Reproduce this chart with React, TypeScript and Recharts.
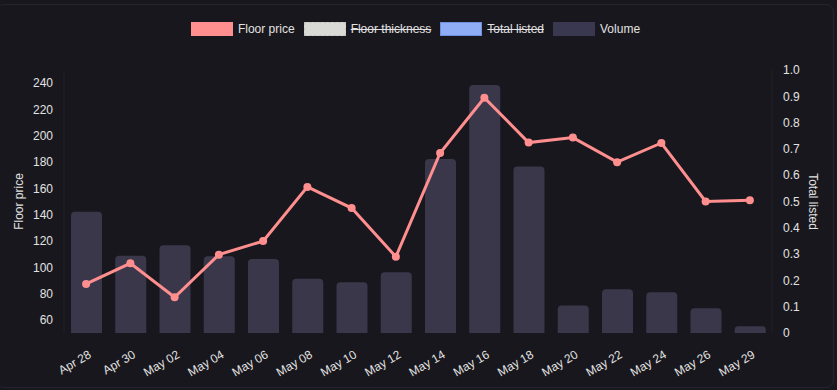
import { ComposedChart, Bar, Line, XAxis, YAxis } from "recharts";

const dates = [
  "Apr 28", "Apr 30", "May 02", "May 04", "May 06", "May 08", "May 10", "May 12",
  "May 14", "May 16", "May 18", "May 20", "May 22", "May 24", "May 26", "May 29",
];
const floorPrice = [87.3, 103, 77.2, 109.6, 119.9, 161.1, 145, 108, 186.9, 228.9, 194.8, 198.6, 179.9, 194.5, 150, 151];
const volume = [92.2, 58.8, 66.7, 58.3, 56.3, 41.3, 38.6, 46.2, 132.4, 188.5, 126.6, 20.9, 33.3, 31, 18.9, 5.2];
const leftTicks = [60, 80, 100, 120, 140, 160, 180, 200, 220, 240];
const rightTicks = [0, 0.1, 0.2, 0.3, 0.4, 0.5, 0.6, 0.7, 0.8, 0.9, 1];

const legendItems = [
  { label: "Floor price", fill: "#ff8f8f", border: "#ff8f8f", hidden: false, dashed: false },
  { label: "Floor thickness", fill: "#d9d9d6", border: "#c4c4c0", hidden: true, dashed: true },
  { label: "Total listed", fill: "#8fadf7", border: "#6f8fe0", hidden: true, dashed: false },
  { label: "Volume", fill: "#3a3750", border: "#3a3750", hidden: false, dashed: false },
];

const data = dates.map((date, i) => ({ date, floor: floorPrice[i], volume: volume[i] }));

const TEXT = "#e2e2e2";
const FONT = "'Liberation Sans', Arial, Helvetica, sans-serif";

function DateTick({ x, y, payload }: any) {
  return (
    <text
      x={x + 6}
      y={y + 16}
      transform={`rotate(-30, ${x + 6}, ${y + 16})`}
      textAnchor="end"
      fill={TEXT}
      fontSize={12}
      fontFamily={FONT}
    >
      {payload.value}
    </text>
  );
}

function ChartLegend() {
  return (
    <div
      style={{
        position: "absolute",
        top: 21,
        left: 0,
        width: 837,
        boxSizing: "border-box",
        paddingRight: 6,
        display: "flex",
        justifyContent: "center",
        gap: 9,
        fontFamily: FONT,
        fontSize: 12,
        color: TEXT,
      }}
    >
      {legendItems.map((it) => (
        <div key={it.label} style={{ display: "flex", alignItems: "center", gap: 5, height: 15 }}>
          <span
            style={{
              width: 40,
              height: 12,
              background: it.fill,
              border: `1.5px ${it.dashed ? "dashed" : "solid"} ${it.border}`,
              display: "inline-block",
            }}
          />
          <span style={{ textDecoration: it.hidden ? "line-through" : "none" }}>{it.label}</span>
        </div>
      ))}
    </div>
  );
}

export default function App() {
  return (
    <div
      style={{
        position: "absolute",
        left: 0,
        top: 0,
        width: 837,
        height: 390,
        background: "#18171d",
        overflow: "hidden",
      }}
    >
      <div
        style={{
          position: "absolute",
          left: -4,
          top: 4,
          width: 836,
          height: 382,
          border: "1px solid #26252f",
          borderRadius: 8,
        }}
      />
      <ChartLegend />
      <ComposedChart
        width={837}
        height={390}
        data={data}
        margin={{ top: 70, right: 0, bottom: 7, left: 0 }}
        style={{ position: "absolute", left: 0, top: 0 }}
      >
        <XAxis
          dataKey="date"
          height={50}
          tickLine={false}
          axisLine={false}
          interval={0}
          tick={<DateTick />}
        />
        <YAxis
          yAxisId="left"
          width={64}
          domain={[50, 250]}
          allowDataOverflow
          ticks={leftTicks}
          tickLine={false}
          axisLine={{ stroke: "#222129" }}
          tickSize={0}
          tickMargin={11}
          tick={{ fill: TEXT, fontSize: 12, fontFamily: FONT }}
          label={{ value: "Floor price", angle: -90, position: "center", dx: -13, fill: TEXT, fontSize: 12, fontFamily: FONT }}
        />
        <YAxis
          yAxisId="right"
          orientation="right"
          type="number"
          width={65}
          domain={[0, 1]}
          allowDataOverflow
          ticks={rightTicks}
          interval={0}
          tickFormatter={(v: number) => (v === 0 ? "0" : v.toFixed(1))}
          tickLine={false}
          axisLine={{ stroke: "#222129" }}
          tickSize={0}
          tickMargin={11}
          tick={{ fill: TEXT, fontSize: 12, fontFamily: FONT }}
          label={{ value: "Total listed", angle: 90, position: "center", dx: 9, fill: TEXT, fontSize: 12, fontFamily: FONT }}
        />
        <YAxis yAxisId="vol" hide domain={[0, 200]} allowDataOverflow />
        <Bar
          yAxisId="vol"
          dataKey="volume"
          fill="#3a374b"
          barSize={31}
          radius={[4, 4, 0, 0]}
          isAnimationActive={false}
        />
        <Line
          yAxisId="left"
          dataKey="floor"
          type="linear"
          stroke="#ff8f8f"
          strokeWidth={3}
          dot={{ r: 4, fill: "#ff8f8f", stroke: "#ff8f8f", strokeWidth: 0 }}
          isAnimationActive={false}
        />
      </ComposedChart>
    </div>
  );
}
